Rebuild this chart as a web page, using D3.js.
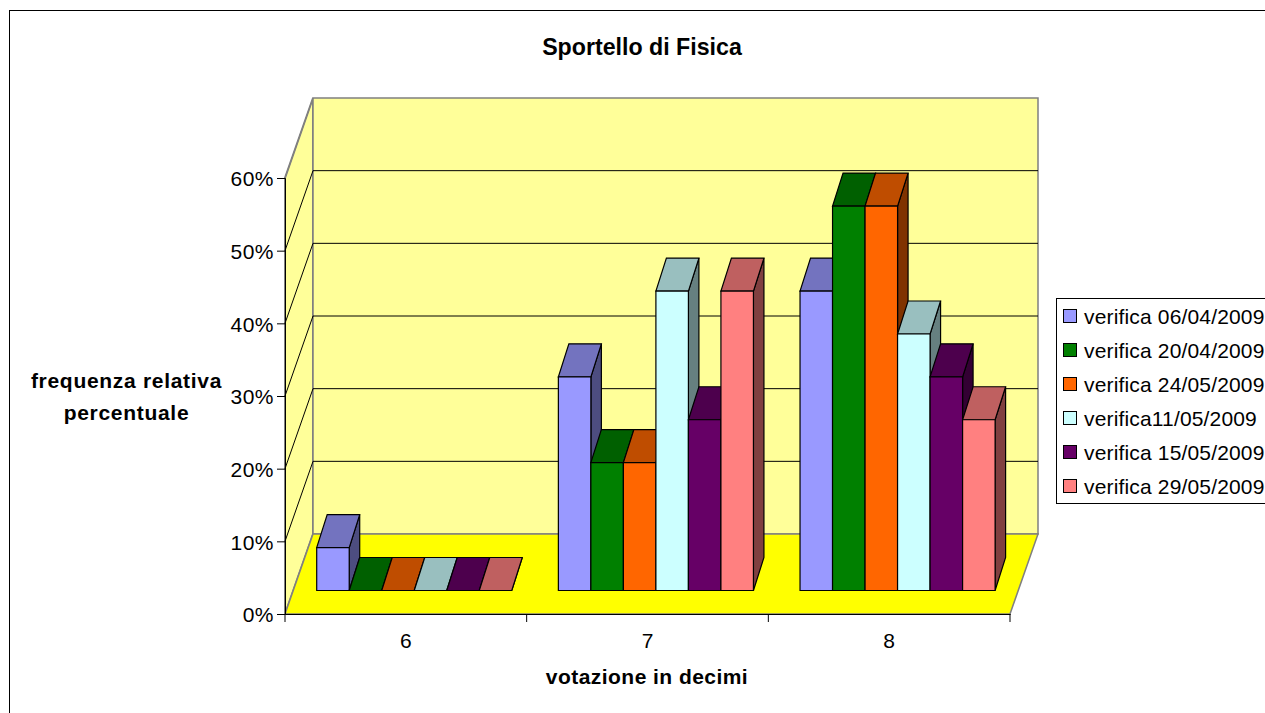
<!DOCTYPE html>
<html><head><meta charset="utf-8">
<script src="https://cdn.jsdelivr.net/npm/d3@7"></script>
<style>html,body{margin:0;padding:0;background:#fff;overflow:hidden}svg{display:block}text{font-family:"Liberation Sans",Arial,sans-serif;fill:#000}</style>
</head><body><svg id="c" width="1265" height="713"></svg>
<script>
const title = "Sportello di Fisica";
const xTitle = "votazione in decimi";
const yTitleLines = ["frequenza relativa","percentuale"];
const categories = ["6","7","8"];
const seriesNames = ["verifica 06/04/2009","verifica 20/04/2009","verifica 24/05/2009","verifica11/05/2009","verifica 15/05/2009","verifica 29/05/2009"];
const s1 = [5.9,29.4,41.2];
const s2 = [0,17.6,52.9];
const s3 = [0,17.6,52.9];
const s4 = [0,41.2,35.3];
const s5 = [0,23.5,29.4];
const s6 = [0,41.2,23.5];
const seriesValues = [s1,s2,s3,s4,s5,s6];
const colors = ["#9999FF","#008000","#FF6600","#CCFFFF","#660066","#FF8080"];
const yTicks = [0,10,20,30,40,50,60];

const svg = d3.select("#c");
const y = d3.scaleLinear().domain([0,60]).range([614,178]);
const x = d3.scaleBand().domain(categories).range([285,1010]);
const depth = {dx:28,dy:-80};
const barFloor = {dx:8.4,dy:-23.5};
const barDepth = {dx:10.5,dy:-33};
const sidePad = 23.3;
const barW = (x.bandwidth()-2*sidePad)/6;
const darker = (c,k)=>{const r=d3.rgb(c);return d3.rgb(r.r*k,r.g*k,r.b*k).formatHex();};
const poly = (pts,fill,stroke,sw)=>svg.append("polygon").attr("points",pts.map(p=>p.join(",")).join(" ")).attr("fill",fill).attr("stroke",stroke).attr("stroke-width",sw).attr("stroke-linejoin","miter");

svg.append("rect").attr("x",9.5).attr("y",10.5).attr("width",1300).attr("height",760).attr("fill","#fff").attr("stroke","#000").attr("stroke-width",1);

svg.append("text").attr("x",642).attr("y",55).attr("text-anchor","middle").attr("font-weight","bold").style("font-size","23.2px").text(title);

const x0=x.range()[0], x1=x.range()[1], y0=y(0), yTop=y(60);
poly([[x0,y0],[x0+depth.dx,y0+depth.dy],[x0+depth.dx,yTop+depth.dy],[x0,yTop]],"#FFFF99","#808080",2);
poly([[x0+depth.dx,y0+depth.dy],[x1+depth.dx,y0+depth.dy],[x1+depth.dx,yTop+depth.dy],[x0+depth.dx,yTop+depth.dy]],"#FFFF99","#808080",1.5);
poly([[x0,y0],[x1,y0],[x1+depth.dx,y0+depth.dy],[x0+depth.dx,y0+depth.dy]],"#FFFF00","#808080",1.5);

yTicks.slice(1).forEach(t=>{
  const p=y(t);
  svg.append("path").attr("fill","none").attr("stroke",t===60?"#808080":"#000").attr("stroke-width",1)
    .attr("d",`M${x0},${p}L${x0+depth.dx},${p+depth.dy}`+(t===60?"":`L${x1+depth.dx},${p+depth.dy}`));
});

const axisL = svg.append("g").attr("transform",`translate(${x0},0)`).call(d3.axisLeft(y).tickValues(yTicks).tickFormat(d=>d+"%").tickSize(8).tickPadding(3));
const axisB = svg.append("g").attr("transform",`translate(0,${y0})`).call(d3.axisBottom(x).tickSize(0).tickPadding(19));
svg.append("g").selectAll("line").data([...categories.map(c=>x(c)),x1]).join("line")
  .attr("x1",d=>d).attr("x2",d=>d).attr("y1",y0).attr("y2",y0+8).attr("stroke","#000");
[axisL,axisB].forEach(a=>{a.selectAll("text").style("font-size","21px").style("font-family",'"Liberation Sans",Arial,sans-serif');a.selectAll("path,line").attr("stroke","#000");a.select(".domain").attr("stroke-width",1);});
axisL.selectAll("text").attr("dy","0.38em").style("letter-spacing","0.5px");

categories.forEach((c,ci)=>{
  seriesValues.forEach((vals,si)=>{
    const v=vals[ci], col=colors[si];
    const L=x(c)+barFloor.dx+sidePad+si*barW, R=L+barW;
    const B=y(0)+barFloor.dy, T=y(v)+barFloor.dy;
    const d=barDepth;
    poly([[R,B],[R+d.dx,B+d.dy],[R+d.dx,T+d.dy],[R,T]],darker(col,0.5),"#000",1.2);
    poly([[L,T],[R,T],[R+d.dx,T+d.dy],[L+d.dx,T+d.dy]],darker(col,0.75),"#000",1.2);
    poly([[L,B],[R,B],[R,T],[L,T]],col,"#000",1.2);
  });
});

svg.append("text").attr("x",647).attr("y",683.5).attr("text-anchor","middle").attr("font-weight","bold").style("font-size","21px").style("letter-spacing","0.45px").text(xTitle);
yTitleLines.forEach((t,i)=>svg.append("text").attr("x",126.5).attr("y",[388,420][i]).attr("text-anchor","middle").attr("font-weight","bold").style("font-size","21px").style("letter-spacing","0.7px").text(t));

svg.append("rect").attr("x",1056.5).attr("y",298.5).attr("width",300).attr("height",205).attr("fill","#fff").attr("stroke","#000");
const leg=d3.scaleBand().domain(d3.range(6)).range([299,503]);
seriesNames.forEach((n,i)=>{
  const cy=leg(i)+leg.bandwidth()/2;
  svg.append("rect").attr("x",1063.5).attr("y",cy-6.5).attr("width",13).attr("height",13).attr("fill",colors[i]).attr("stroke","#000");
  svg.append("text").attr("x",1084).attr("y",cy+8).style("font-size","21px").style("letter-spacing","0.16px").text(n);
});
</script></body></html>
